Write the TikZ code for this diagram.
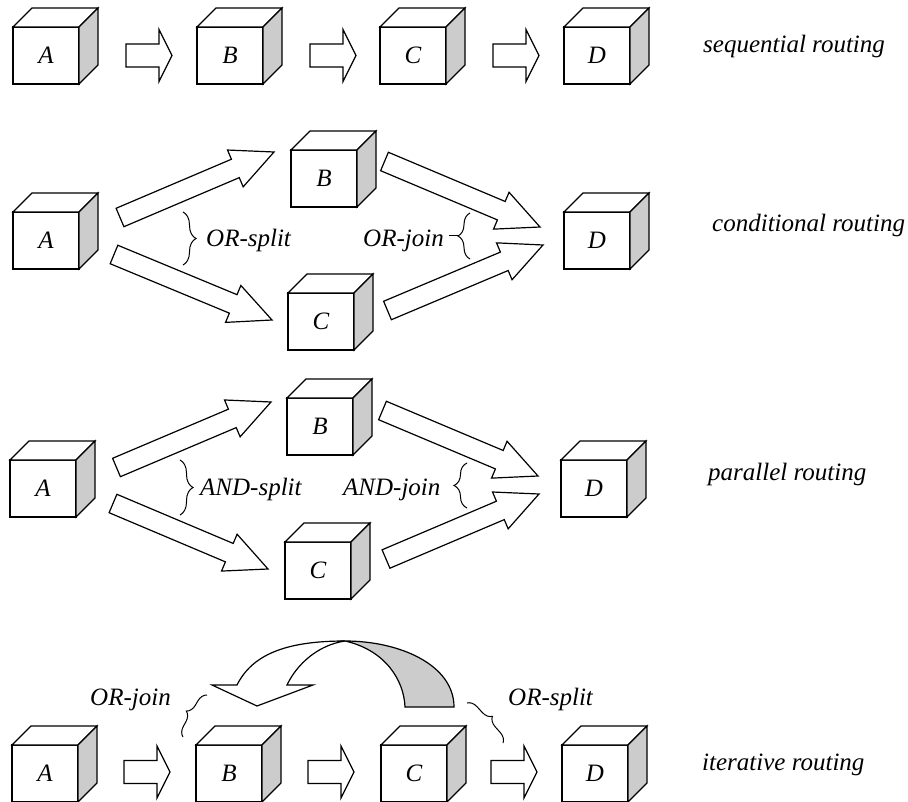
\documentclass[tikz,border=0pt]{standalone}
\usepackage{fontspec}
\setmainfont{Liberation Serif}
\usetikzlibrary{calc,decorations.pathreplacing}
\definecolor{sidegray}{RGB}{204,204,204}
\tikzset{
  edge/.style={line width=1.2pt, line join=miter},
  face/.style={edge, draw, fill=white, minimum width=66pt, minimum height=57pt, inner sep=0pt, outer sep=0pt},
  blockarrow/.style={edge, draw, fill=white},
  lbl/.style={anchor=base west, inner sep=0pt},
  bracestyle/.style={line width=1pt, decorate, decoration={brace, amplitude=#1}},
}
\newcommand{\mycube}[4]{%
  \node[face, anchor=north west] (#1) at (#2,#3) {#4};
  \draw[edge, fill=white] (#1.north west) -- ++(19,-19) -- ++(66,0) -- (#1.north east) -- cycle;
  \draw[edge, fill=sidegray] (#1.north east) -- ++(19,-19) -- ++(0,57) -- (#1.south east) -- cycle;
}
% #1 tail, #2 tip, #3 shaft half width, #4 head half width, #5 head length
\newcommand{\barrow}[5]{%
  \path ($(#2)!#5!(#1)$) coordinate (bh);
  \draw[blockarrow] ($(#1)!#3!90:(#2)$) -- ($(bh)!#3!90:(#2)$) -- ($(bh)!#4!90:(#2)$) -- (#2)
    -- ($(bh)!#4!-90:(#2)$) -- ($(bh)!#3!-90:(#2)$) -- ($(#1)!#3!-90:(#2)$) -- cycle;
}
\newcommand{\harrow}[2]{\barrow{#1}{#2}{11.5pt}{26pt}{13pt}}
\newcommand{\darrow}[2]{\barrow{#1}{#2}{10pt}{20pt}{42pt}}
\begin{document}
\begin{tikzpicture}[x=1pt, y=-1pt, font=\fontsize{25}{30}\selectfont\itshape]
\useasboundingbox (0,0) rectangle (908,802);

% ---------- row 1: sequential ----------
\mycube{sa}{13}{27}{A}
\mycube{sb}{197}{27}{B}
\mycube{sc}{380}{27}{C}
\mycube{sd}{564}{27}{D}
\coordinate (s1a) at (126,55.5); \coordinate (s1b) at (172,55.5);
\coordinate (s2a) at (310,55.5); \coordinate (s2b) at (356,55.5);
\coordinate (s3a) at (493,55.5); \coordinate (s3b) at (539,55.5);
\harrow{s1a}{s1b}
\harrow{s2a}{s2b}
\harrow{s3a}{s3b}
\node[lbl] (seqlbl) at (703,53) {sequential routing};

% ---------- row 2: conditional ----------
\mycube{ca}{13}{212}{A}
\mycube{cb}{291}{150}{B}
\mycube{cc}{288}{293}{C}
\mycube{cd}{564}{212}{D}
\coordinate (c1a) at (120,217.5); \coordinate (c1b) at (274,152);
\coordinate (c2a) at (114,254.5); \coordinate (c2b) at (272,320);
\coordinate (c3a) at (384.5,161.5); \coordinate (c3b) at (540,227);
\coordinate (c4a) at (387.5,310.5); \coordinate (c4b) at (543,245);
\darrow{c1a}{c1b}
\darrow{c2a}{c2b}
\darrow{c3a}{c3b}
\darrow{c4a}{c4b}
\coordinate (cbr1a) at (183,212); \coordinate (cbr1b) at (183,265);
\draw[bracestyle=13pt] (cbr1a) -- (cbr1b);
\node[lbl] (corsplit) at (206,247) {OR-split};
\coordinate (cbr2a) at (470,259); \coordinate (cbr2b) at (470,213);
\draw[bracestyle=12pt] (cbr2a) -- (cbr2b);
\coordinate (cdash1) at (449,236); \coordinate (cdash2) at (458,236);
\draw[line width=1pt] (cdash1) -- (cdash2);
\node[lbl] (corjoin) at (363,247) {OR-join};
\node[lbl] (condlbl) at (712,232) {conditional routing};

% ---------- row 3: parallel ----------
\mycube{pa}{10}{460}{A}
\mycube{pb}{287}{398}{B}
\mycube{pc}{285}{542}{C}
\mycube{pd}{561}{460}{D}
\coordinate (p1a) at (116.5,467.5); \coordinate (p1b) at (271,402);
\coordinate (p2a) at (113,503.5); \coordinate (p2b) at (268,569);
\coordinate (p3a) at (382.5,410.5); \coordinate (p3b) at (538,476);
\coordinate (p4a) at (386,559); \coordinate (p4b) at (539,494);
\darrow{p1a}{p1b}
\darrow{p2a}{p2b}
\darrow{p3a}{p3b}
\darrow{p4a}{p4b}
\coordinate (pbr1a) at (180,460); \coordinate (pbr1b) at (180,515);
\draw[bracestyle=13pt] (pbr1a) -- (pbr1b);
\node[lbl] (pandsplit) at (200,495) {AND-split};
\coordinate (pbr2a) at (467,508); \coordinate (pbr2b) at (467,463);
\draw[bracestyle=13pt] (pbr2a) -- (pbr2b);
\node[lbl] (pandjoin) at (343,495) {AND-join};
\node[lbl] (parlbl) at (708,480) {parallel routing};

% ---------- row 4: iterative ----------
\mycube{ia}{12}{745}{A}
\mycube{ib}{196}{745}{B}
\mycube{ic}{381}{745}{C}
\mycube{id}{562}{745}{D}
\coordinate (i1a) at (124,772); \coordinate (i1b) at (170,772);
\coordinate (i2a) at (308,772); \coordinate (i2b) at (354,772);
\coordinate (i3a) at (491,772); \coordinate (i3b) at (537,772);
\harrow{i1a}{i1b}
\harrow{i2a}{i2b}
\harrow{i3a}{i3b}
% curved loop arrow from C back to B
\coordinate (lt) at (345,641);
\draw[edge, fill=sidegray] (lt) .. controls (400,641) and (454,665) .. (454,707)
  -- (405,707) .. controls (404,680) and (385,650) .. (lt) -- cycle;
\draw[edge, fill=white] (237,685) .. controls (252,655) and (285,641) .. (lt)
  .. controls (318,645) and (297,664) .. (287,685) -- (313,685) -- (257,706) -- (212,685) -- cycle;
\coordinate (ibr1a) at (183,737); \coordinate (ibr1b) at (207,695);
\draw[bracestyle=10pt] (ibr1a) -- (ibr1b);
\node[lbl] (iorjoin) at (90,705) {OR-join};
\coordinate (ibr2a) at (467,703); \coordinate (ibr2b) at (503,743);
\draw[bracestyle=10pt] (ibr2a) -- (ibr2b);
\node[lbl] (iorsplit) at (508,705) {OR-split};
\node[lbl] (iterlbl) at (702,770) {iterative routing};
\end{tikzpicture}
\end{document}
